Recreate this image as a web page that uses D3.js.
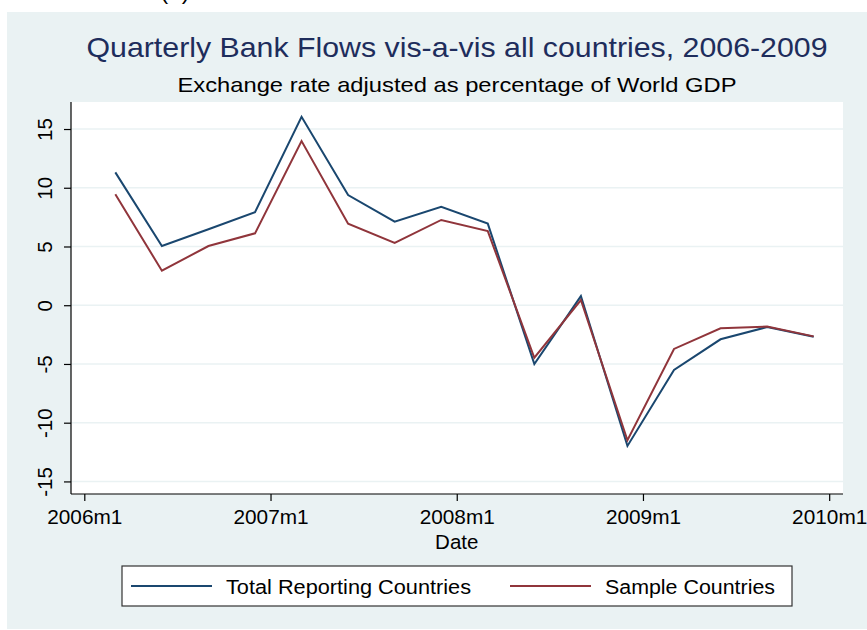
<!DOCTYPE html>
<html>
<head>
<meta charset="utf-8">
<script src="https://cdn.jsdelivr.net/npm/d3@7"></script>
<style>
  html, body { margin: 0; padding: 0; background: #ffffff; }
  svg { display: block; font-family: "Liberation Sans", Arial, sans-serif; }
</style>
</head>
<body>
<svg id="chart" width="867" height="630"></svg>
<script>
// Quarterly observations (end-of-quarter months)
const periods = ["2006m3","2006m6","2006m9","2006m12",
                 "2007m3","2007m6","2007m9","2007m12",
                 "2008m3","2008m6","2008m9","2008m12",
                 "2009m3","2009m6","2009m9","2009m12"];
const totalReporting  = [11.31, 5.04, 6.47, 7.91, 16.04, 9.38, 7.11, 8.38,
                         6.95, -5.00, 0.78, -11.98, -5.51, -2.90, -1.86, -2.68];
const sampleCountries = [9.44, 2.94, 5.04, 6.12, 13.97, 6.94, 5.30, 7.26,
                         6.31, -4.47, 0.44, -11.49, -3.72, -1.96, -1.82, -2.65];
const xTickLabels = ["2006m1","2007m1","2008m1","2009m1","2010m1"];
const yTickValues = [-15, -10, -5, 0, 5, 10, 15];
const seriesNames = ["Total Reporting Countries", "Sample Countries"];
const seriesColors = ["#1a476f", "#90353b"];

const titleText = "Quarterly Bank Flows vis-a-vis all countries, 2006-2009";
const subtitleText = "Exchange rate adjusted as percentage of World GDP";

// Stata-style monthly date -> months since 2006m1
const monthIndex = s => {
  const [y, m] = s.split("m").map(Number);
  return (y - 2006) * 12 + (m - 1);
};

const svg = d3.select("#chart");
const W = 867, H = 630;

// plot region
const plot = { left: 71, right: 843, top: 102, bottom: 494 };
const cx = (plot.left + plot.right) / 2;

const x = d3.scaleLinear().domain([-0.857, 48.89]).range([plot.left, plot.right]);
const y = d3.scaleLinear().domain([-16.07, 17.30]).range([plot.bottom, plot.top]);

// outer graph region
svg.append("rect").attr("x", 0).attr("y", 0).attr("width", W).attr("height", H).attr("fill", "#ffffff");
// panel label sitting above the graph frame
svg.append("text").attr("x", 175).attr("y", -1).attr("text-anchor", "middle")
  .attr("font-size", 24).attr("fill", "#000").text("(a)");
svg.append("rect").attr("x", 7).attr("y", 12).attr("width", W - 7).attr("height", 617).attr("fill", "#eaf2f3");

// plot area
svg.append("rect").attr("x", plot.left).attr("y", plot.top)
  .attr("width", plot.right - plot.left).attr("height", plot.bottom - plot.top)
  .attr("fill", "#ffffff");

// horizontal grid lines
svg.append("g").selectAll("line").data(yTickValues).join("line")
  .attr("x1", plot.left).attr("x2", plot.right)
  .attr("y1", d => y(d)).attr("y2", d => y(d))
  .attr("stroke", "#eaf2f3").attr("stroke-width", 1.6);

// titles (Stata's wide text rendering)
svg.append("text").attr("x", cx).attr("y", 57.3)
  .attr("text-anchor", "middle").attr("font-size", 28).attr("fill", "#1e2d5c")
  .attr("textLength", 741).attr("lengthAdjust", "spacingAndGlyphs")
  .text(titleText);
svg.append("text").attr("x", cx).attr("y", 92)
  .attr("text-anchor", "middle").attr("font-size", 21).attr("fill", "#000")
  .attr("textLength", 559).attr("lengthAdjust", "spacingAndGlyphs")
  .text(subtitleText);

// y axis
const yAxis = svg.append("g").attr("transform", `translate(${plot.left},0)`)
  .call(d3.axisLeft(y).tickValues(yTickValues).tickSize(7).tickSizeOuter(0).tickFormat(d3.format("d")));
yAxis.select(".domain").attr("d", `M0,${plot.top}V${plot.bottom}`)
  .attr("stroke", "#000").attr("stroke-width", 1.2);
yAxis.selectAll(".tick line").attr("stroke", "#000").attr("stroke-width", 1.2);
yAxis.selectAll(".tick text")
  .attr("transform", "rotate(-90)")
  .attr("x", 0).attr("y", -19).attr("dy", 0)
  .attr("text-anchor", "middle")
  .attr("font-size", 20.5).attr("font-family", "Liberation Sans, Arial, sans-serif")
  .attr("fill", "#000")
  .text(d => d < 0 ? "-" + Math.abs(d) : String(d));

// x axis
const xAxis = svg.append("g").attr("transform", `translate(0,${plot.bottom})`)
  .call(d3.axisBottom(x).tickValues(xTickLabels.map(monthIndex))
    .tickSize(7).tickSizeOuter(0).tickFormat((d, i) => xTickLabels[i]));
xAxis.select(".domain").attr("d", `M${plot.left},0H${plot.right}`)
  .attr("stroke", "#000").attr("stroke-width", 1.2);
xAxis.selectAll(".tick line").attr("stroke", "#000").attr("stroke-width", 1.2);
xAxis.selectAll(".tick text")
  .attr("y", 30).attr("dy", 0)
  .attr("font-size", 20.8).attr("font-family", "Liberation Sans, Arial, sans-serif")
  .attr("fill", "#000");

// x axis title
svg.append("text").attr("x", x(24)).attr("y", 549)
  .attr("text-anchor", "middle").attr("font-size", 20.5).attr("fill", "#000").text("Date");

// series lines
const line = d3.line().x(d => x(monthIndex(d.p))).y(d => y(d.v));
[totalReporting, sampleCountries].forEach((vals, i) => {
  const pts = periods.map((p, j) => ({ p, v: vals[j] }));
  svg.append("path").datum(pts)
    .attr("d", line)
    .attr("fill", "none")
    .attr("stroke", seriesColors[i])
    .attr("stroke-width", 2)
    .attr("stroke-linejoin", "miter");
});

// legend
const lg = svg.append("g");
lg.append("rect").attr("x", 122).attr("y", 566).attr("width", 670).attr("height", 40)
  .attr("fill", "#ffffff").attr("stroke", "#333").attr("stroke-width", 1.2);
const legendItems = [
  { x1: 131, x2: 212, tx: 226, len: 245 },
  { x1: 510, x2: 591, tx: 605, len: 170 }
];
legendItems.forEach((it, i) => {
  lg.append("line").attr("x1", it.x1).attr("x2", it.x2).attr("y1", 586).attr("y2", 586)
    .attr("stroke", seriesColors[i]).attr("stroke-width", 2);
  lg.append("text").attr("x", it.tx).attr("y", 593.5).attr("font-size", 20)
    .attr("textLength", it.len).attr("lengthAdjust", "spacingAndGlyphs")
    .attr("fill", "#000").text(seriesNames[i]);
});
</script>
</body>
</html>
